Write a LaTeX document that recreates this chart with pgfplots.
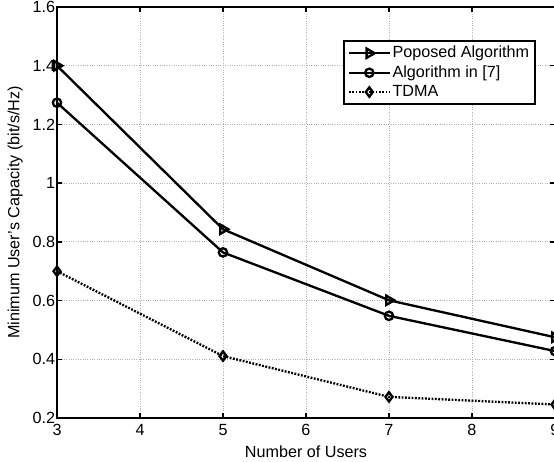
\documentclass[border=0pt]{standalone}
\usepackage{pgfplots}
\pgfplotsset{compat=1.18}
\usepackage{fontspec}
\setmainfont{Liberation Sans}
\newcommand{\ff}{\fontsize{9.7}{11.6}\selectfont}
\begin{document}
\begin{tikzpicture}
\useasboundingbox (-34.2pt,-25.8pt) rectangle (298.2pt,250.8pt);
\clip (-34.2pt,-25.8pt) rectangle (298.2pt,250.8pt);
\begin{axis}[
  at={(0,0)}, anchor=south west,
  scale only axis, width=298.8pt, height=246.6pt,
  xmin=3, xmax=9, ymin=0.2, ymax=1.6,
  xtick={3,4,5,6,7,8,9},
  ytick={0.2,0.4,0.6,0.8,1,1.2,1.4,1.6},
  tick align=inside, major tick length=3pt,
  tick style={black, line width=0.8pt},
  axis line style={line width=1.7pt},
  grid=major,
  major grid style={gray!60, densely dotted, line width=0.5pt},
  /pgf/number format/assume math mode=true,
  tick label style={font=\ff},
  yticklabel style={inner xsep=1pt},
  label style={font=\ff},
  xlabel={Number of Users},
  ylabel={Minimum User's Capacity (bit/s/Hz)},
  xlabel style={at={(axis description cs:0.5,-0.083)}, anchor=center},
  ylabel style={at={(axis description cs:-0.084,0.5)}, anchor=center},
  legend style={font=\ff, at={(0.962,0.920)}, anchor=north east,
    draw=black, line width=1.3pt, fill=white, inner xsep=2.5pt, inner ysep=1.5pt,
    row sep=0pt, cells={anchor=west},
    nodes={inner xsep=1pt, inner ysep=1.6pt}},
  legend image code/.code={\draw[mark repeat=2,mark phase=2] plot coordinates {(0cm,0cm) (0.43cm,0cm) (0.86cm,0cm)};},
]
\addplot[black, line width=1.4pt, mark=triangle, mark size=3.2pt,
  mark options={rotate=-90, solid}] coordinates {
  (3,1.40) (5,0.843) (7,0.601) (9,0.475)};
\addlegendentry{Poposed Algorithm}
\addplot[black, line width=1.4pt, mark=o, mark size=2.5pt,
  mark options={solid}] coordinates {
  (3,1.274) (5,0.764) (7,0.548) (9,0.428)};
\addlegendentry{Algorithm in [7]}
\addplot[black, line width=1.4pt, dash pattern=on 1.1pt off 0.9pt, mark=diamond, mark size=2.8pt,
  mark options={solid}] coordinates {
  (3,0.700) (5,0.411) (7,0.272) (9,0.246)};
\addlegendentry{TDMA}
\end{axis}
\end{tikzpicture}
\end{document}
